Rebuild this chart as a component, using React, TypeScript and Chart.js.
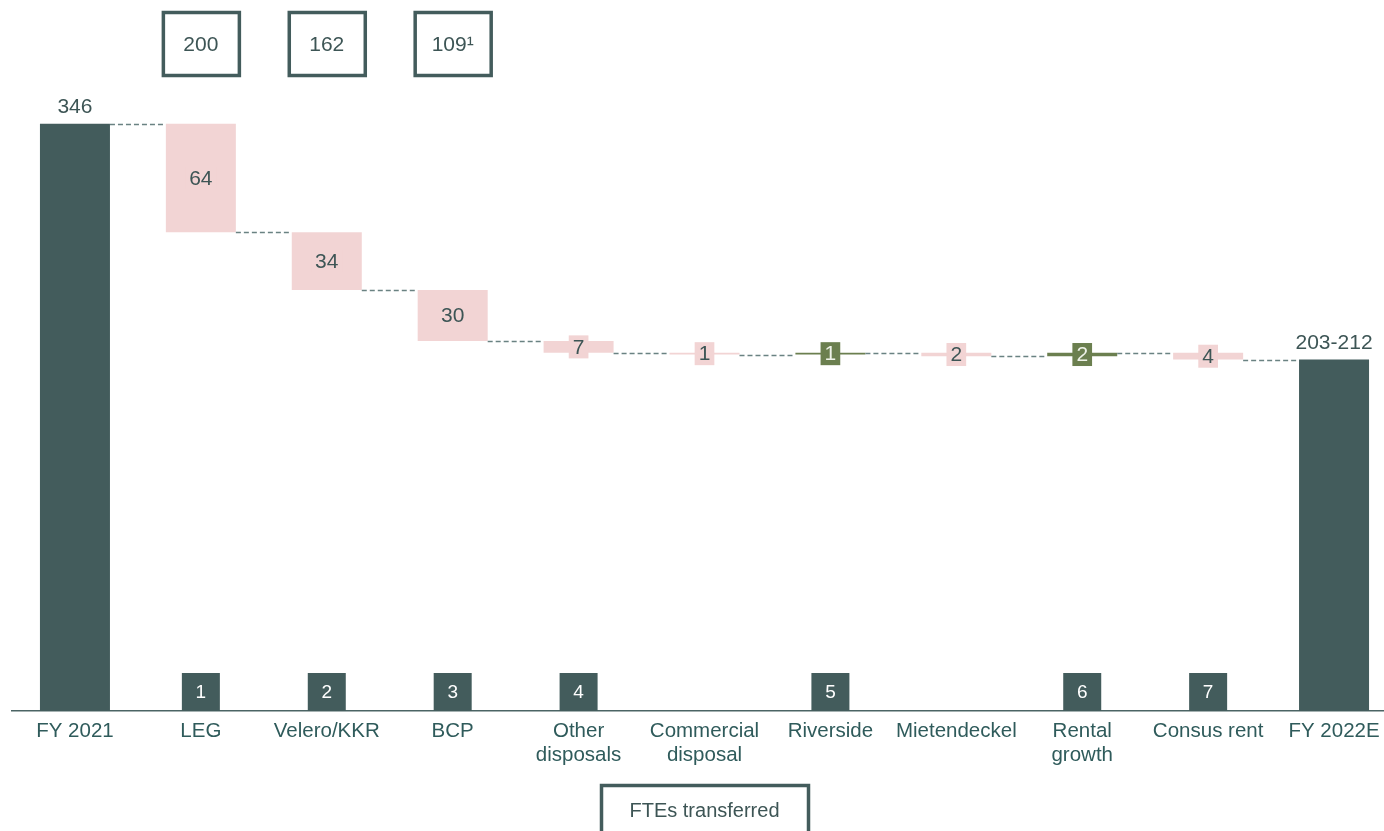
import React, { useEffect, useRef } from "react";
import { Chart, registerables } from "chart.js";

Chart.register(...registerables);

const categories: (string | string[])[] = [
  "FY 2021",
  "LEG",
  "Velero/KKR",
  "BCP",
  ["Other", "disposals"],
  ["Commercial", "disposal"],
  "Riverside",
  "Mietendeckel",
  ["Rental", "growth"],
  "Consus rent",
  "FY 2022E",
];
const kinds = ["total", "delta", "delta", "delta", "delta", "delta", "delta", "delta", "delta", "delta", "total"];
const values = [346, -64, -34, -30, -7, -1, 1, -2, 2, -4, 207];
const valueLabels = ["346", "64", "34", "30", "7", "1", "1", "2", "2", "4", "203-212"];
const markerLabels = ["", "1", "2", "3", "4", "", "5", "", "6", "7", ""];
const fteLabels = ["", "200", "162", "109\u00B9", "", "", "", "", "", "", ""];
const fteTitle = "FTEs transferred";
const fteTitleIndex = 5;

const DARK = "#435c5c";
const PINK = "#f2d4d4";
const GREEN = "#6b7f4f";
const TEXT = "#3d5555";
const TICK = "#2f5b5b";
const FONT = "'Liberation Sans', Arial, sans-serif";

function buildRanges() {
  const ranges: [number, number][] = [];
  const levels: number[] = [];
  let running = 0;
  values.forEach((v, i) => {
    if (kinds[i] === "total") {
      ranges.push([0, v]);
      running = v;
    } else {
      const next = running + v;
      ranges.push([Math.min(running, next), Math.max(running, next)]);
      running = next;
    }
    levels.push(running);
  });
  return { ranges, levels };
}

export default function App() {
  const ref = useRef<HTMLCanvasElement | null>(null);
  useEffect(() => {
    if (!ref.current) return;
    const { ranges, levels } = buildRanges();
    const colors = values.map((v, i) => (kinds[i] === "total" ? DARK : v < 0 ? PINK : GREEN));

    const overlay = {
      id: "overlay",
      afterDatasetsDraw(chart: any) {
        const ctx = chart.ctx as CanvasRenderingContext2D;
        const meta = chart.getDatasetMeta(0);
        const y = chart.scales.y;
        const area = chart.chartArea;
        ctx.save();
        // connectors
        ctx.strokeStyle = "#6a8282";
        ctx.lineWidth = 1.3;
        ctx.setLineDash([5, 3]);
        for (let i = 0; i < values.length - 1; i++) {
          const a = meta.data[i];
          const b = meta.data[i + 1];
          const py = Math.round(y.getPixelForValue(levels[i])) + 0.5;
          ctx.beginPath();
          ctx.moveTo(a.x + a.width / 2, py);
          ctx.lineTo(b.x - b.width / 2, py);
          ctx.stroke();
        }
        ctx.setLineDash([]);
        // value labels
        ctx.font = `21px ${FONT}`;
        ctx.textAlign = "center";
        values.forEach((v, i) => {
          const el = meta.data[i];
          const r = ranges[i];
          if (kinds[i] === "total") {
            ctx.fillStyle = TEXT;
            ctx.textBaseline = "bottom";
            ctx.fillText(valueLabels[i], el.x, y.getPixelForValue(r[1]) - 6);
          } else {
            const cy = (y.getPixelForValue(r[0]) + y.getPixelForValue(r[1])) / 2;
            const w = ctx.measureText(valueLabels[i]).width + 8;
            ctx.fillStyle = colors[i];
            ctx.fillRect(el.x - w / 2, cy - 11.5, w, 23);
            ctx.fillStyle = v < 0 ? TEXT : "#eef2e8";
            ctx.textBaseline = "middle";
            ctx.fillText(valueLabels[i], el.x, cy + 1);
          }
        });
        // markers
        ctx.font = `19px ${FONT}`;
        markerLabels.forEach((m, i) => {
          if (!m) return;
          const x = meta.data[i].x;
          ctx.fillStyle = DARK;
          ctx.fillRect(x - 19, area.bottom - 38, 38, 38);
          ctx.fillStyle = "#ffffff";
          ctx.textBaseline = "middle";
          ctx.fillText(m, x, area.bottom - 18);
        });
        // FTE boxes
        ctx.font = `21px ${FONT}`;
        ctx.strokeStyle = DARK;
        ctx.lineWidth = 3.5;
        fteLabels.forEach((t, i) => {
          if (!t) return;
          const x = meta.data[i].x;
          ctx.strokeRect(x - 37.5, 12.5, 76, 63);
          ctx.fillStyle = TEXT;
          ctx.textBaseline = "middle";
          ctx.fillText(t, x, 45);
        });
        // FTEs transferred box
        ctx.font = `20px ${FONT}`;
        const tx = meta.data[fteTitleIndex].x;
        ctx.strokeRect(tx - 103, 785.5, 207, 80);
        ctx.fillStyle = TEXT;
        ctx.textBaseline = "middle";
        ctx.fillText(fteTitle, tx, 811);
        ctx.restore();
      },
    };

    const chart = new Chart(ref.current, {
      type: "bar",
      data: {
        labels: categories as any,
        datasets: [
          {
            data: ranges as any,
            backgroundColor: colors,
            borderWidth: 0,
            barPercentage: 1,
            categoryPercentage: 0.556,
          },
        ],
      },
      options: {
        animation: false,
        responsive: true,
        maintainAspectRatio: false,
        layout: { padding: { left: 12, right: 0, top: 32, bottom: 0 } },
        plugins: { legend: { display: false }, tooltip: { enabled: false } },
        scales: {
          x: {
            grid: { display: false },
            border: { display: true, color: "#4b6464", width: 1.5 },
            ticks: {
              color: TICK,
              font: { size: 20.5, family: FONT, lineHeight: 1.17 },
              padding: 0,
              maxRotation: 0,
              autoSkip: false,
            },
            afterFit: (s: any) => {
              s.height = 120;
            },
          },
          y: { display: false, min: 0, max: 400 },
        },
      },
      plugins: [overlay],
    });
    return () => chart.destroy();
  }, []);

  return (
    <div style={{ position: "fixed", inset: 0, overflow: "hidden", background: "#fff" }}>
      <div style={{ position: "absolute", left: 0, top: 0, width: 1397, height: 831 }}>
        <canvas ref={ref} />
      </div>
    </div>
  );
}
